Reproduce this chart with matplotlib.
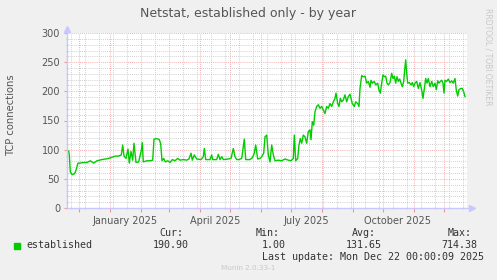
import datetime as dt
import matplotlib
matplotlib.use("Agg")
import matplotlib.pyplot as plt
import matplotlib.dates as mdates
from matplotlib.ticker import MultipleLocator, NullFormatter
from matplotlib.patches import Rectangle
import numpy as np

# series: days since 2024-11-19, established TCP connections
start = dt.datetime(2024, 11, 19)
end = dt.datetime(2025, 12, 24)

days = [0, 1.7, 2.3, 3.3, 5, 7.7, 9, 11, 13.3, 15.7, 20, 23.3, 26.7, 30, 35, 38.3,
        41.7, 45, 48.3, 51.7, 54.3, 55.7, 57, 59, 61, 62.3, 64, 65.7, 67, 69, 71.7,
        74.3, 75.3, 76.3, 80, 83.3, 85.7, 87, 90, 92.3, 93.7, 95, 96.7, 98.3,
        100.7, 103, 105.3, 108, 110.7, 113, 116.3, 119.7, 122, 124, 125.3, 127.3,
        129.7, 134, 136.3, 137.3, 138.7, 143, 144.7, 145.7, 149.7, 151.3, 153,
        154.7, 156.3, 161.3, 164, 166.3, 168, 169.7, 172, 174.7, 177.3, 178.7,
        183, 185.3, 187.3, 188.7, 190.7, 193, 194.7, 196.7, 198, 199.7,
        201.3, 203, 204.7, 206.3, 208, 211.3, 214.7, 218, 221.3, 224, 226.3,
        227.3, 228.7, 230.7, 232, 233.3, 234.7, 236.3, 238, 239.7, 241.3, 243,
        244, 245.3, 246.7, 248, 249.7, 251.3, 253, 254.7, 256.3, 258, 259.7,
        261.3, 263, 264.7, 266.3, 268, 269, 270.7, 272, 273.3, 274.7, 276.3,
        278, 279.7, 281.3, 283, 284, 285.3, 287.3, 288.7, 290.7, 292, 293,
        294.7, 296.3,
        298, 299.7, 301.3, 303, 304, 305.3, 307.3, 308.7, 310.7, 312, 313.3,
        314.7, 316, 317.3, 318.7, 320, 321.3, 323, 324.7, 326, 327.3, 328.7,
        330, 331.3, 332.7, 334, 335.3, 336.7, 337.7, 338.7, 339.7, 340.7, 342.3,
        344, 345.3, 346.7, 348, 349.7, 351.3, 353, 354.7, 356, 357.3, 358.7,
        360, 361.3, 363, 364.7, 366.3, 368, 369.3, 370.7, 372, 373.3, 374.7,
        376, 377, 378, 379.7, 381.3, 383, 384.7, 386.3, 388, 389.3, 390.7, 392,
        394, 395.3, 396.7, 398]
established = [97, 98, 91, 62, 57, 59, 65, 77, 77, 78, 78, 81, 77, 81, 83, 84,
               85, 87, 89, 89, 91, 108, 89, 85, 101, 77, 97, 82, 111, 78, 79,
               99, 112, 79, 81, 81, 82, 118, 119, 117, 110, 81, 85, 79,
               81, 78, 83, 81, 85, 82, 83, 82, 84, 94, 82, 91,
               84, 83, 88, 102, 83, 83, 91, 83, 83, 92, 83,
               88, 83, 84, 85, 102, 88, 83, 83, 85, 118, 83,
               83, 86, 94, 108, 84, 85, 88, 94, 122, 125,
               91, 79, 108, 91, 81, 82, 81, 84, 82, 81, 85,
               125, 81, 85, 108, 119, 111, 125, 122, 111, 131, 134,
               117, 148, 142, 165, 174, 177, 171, 174, 168, 162, 174,
               171, 179, 174, 182, 188, 197, 179, 174, 188, 182, 185,
               194, 182, 191, 195, 188, 179, 174, 182, 179, 174, 205,
               227, 225,
               226, 214, 217, 207, 219, 214, 217, 211, 214, 202, 197,
               214, 228, 225, 226, 214, 211, 215, 231, 222, 226, 214,
               225, 217, 221, 214, 208, 217, 237, 254, 231, 214, 215,
               211, 215, 208, 214, 217, 205, 215, 202, 188, 205, 222,
               214, 222, 208, 217, 208, 214, 203, 218, 214, 217, 219,
               214, 197, 219, 217, 221, 215, 218, 214, 222, 202, 192, 203,
               205, 205, 199, 191]

y_ticks = [0, 50, 100, 150, 200, 250, 300]
month_labels = ["January 2025", "April 2025", "July 2025", "October 2025"]
label_dates = [dt.datetime(2025, 1, 16), dt.datetime(2025, 4, 16),
               dt.datetime(2025, 7, 16), dt.datetime(2025, 10, 16)]
legend_cur, legend_min, legend_avg, legend_max = "190.90", "1.00", "131.65", "714.38"

W, H = 497, 280
txt = "#555555"
fig = plt.figure(figsize=(W / 100, H / 100), dpi=100, facecolor="#F0F0F0")
ax = fig.add_axes([67 / W, (H - 208) / H, 400 / W, 175 / H])
ax.set_facecolor("white")

x = mdates.date2num(start) + np.array(days)
ax.plot(x, established, color="#00CC00", lw=1.0, zorder=3)

ax.set_xlim(mdates.date2num(start), mdates.date2num(end))
ax.set_ylim(0, 300)

# grid
ax.xaxis.set_major_locator(mdates.MonthLocator())
ax.xaxis.set_minor_locator(mdates.RRuleLocator(
    mdates.rrulewrapper(mdates.WEEKLY, interval=2, dtstart=dt.datetime(2024, 12, 2))))
ax.xaxis.set_major_formatter(NullFormatter())
ax.yaxis.set_major_locator(MultipleLocator(50))
ax.yaxis.set_minor_locator(MultipleLocator(10))
ax.set_yticks(y_ticks)
ax.set_yticklabels([str(v) for v in y_ticks])

dots = (0, (1, 1.5))
ax.grid(which="minor", color="#C0C0C0", lw=0.6, ls=dots)
ax.grid(which="major", color="#F09898", lw=0.6, ls=dots)
ax.set_axisbelow(True)

for s in ax.spines.values():
    s.set_visible(False)
ax.tick_params(which="major", axis="x", length=3, color="#F09898", direction="out")
ax.tick_params(which="minor", axis="x", length=2, color="#C0C0C0", direction="inout")
ax.tick_params(which="major", axis="y", length=2, color="#F09898", direction="out",
               labelsize=7, labelcolor=txt, pad=3)
ax.tick_params(which="minor", axis="y", length=2, color="#C0C0C0", direction="inout")

# axis lines with arrows
axis_col = "#C8C8FF"
ax.plot([0, 1.012], [0, 0], transform=ax.transAxes, color=axis_col, lw=1, clip_on=False, zorder=4)
ax.plot([1.012], [0], transform=ax.transAxes, marker=">", ms=4, color=axis_col, clip_on=False, zorder=4)
ax.plot([0, 0], [0, 1.02], transform=ax.transAxes, color=axis_col, lw=1, clip_on=False, zorder=4)
ax.plot([0], [1.025], transform=ax.transAxes, marker="^", ms=4, color=axis_col, clip_on=False, zorder=4)

for d, lab in zip(label_dates, month_labels):
    ax.text(mdates.date2num(d), -0.045, lab, transform=ax.get_xaxis_transform(),
            ha="center", va="top", fontsize=7, color=txt)

ax.set_ylabel("TCP connections", fontsize=7.2, color=txt)
ax.yaxis.set_label_coords((16 - 67) / 400, (208 - 115) / 175)

fig.text(248.5 / W, 1 - 13 / H, "Netstat, established only - by year",
         ha="center", va="center", fontsize=9, color=txt)
fig.text(488 / W, 1 - 57 / H, "RRDTOOL / TOBI OETIKER", rotation=-90,
         ha="center", va="center", fontsize=5.5, color="#C8C8C8")

# legend
mono = dict(family="DejaVu Sans Mono", fontsize=7.2, color="#333333", va="center", ha="left")
fig.add_artist(Rectangle((14 / W, 1 - 248.5 / H), 6 / W, 6 / H,
                         transform=fig.transFigure, color="#00CC00"))
fig.text(26.7 / W, 1 - 245.5 / H, "established", **mono)
fig.text(159 / W, 1 - 233.5 / H, "Cur:", **mono)
fig.text(152.3 / W, 1 - 245.5 / H, legend_cur, **mono)
fig.text(255.7 / W, 1 - 233.5 / H, "Min:", **mono)
fig.text(261.7 / W, 1 - 245.5 / H, legend_min, **mono)
fig.text(351.7 / W, 1 - 233.5 / H, "Avg:", **mono)
fig.text(345.7 / W, 1 - 245.5 / H, legend_avg, **mono)
fig.text(447.7 / W, 1 - 233.5 / H, "Max:", **mono)
fig.text(441.7 / W, 1 - 245.5 / H, legend_max, **mono)
fig.text(261.7 / W, 1 - 257.5 / H, "Last update: Mon Dec 22 00:00:09 2025", **mono)
fig.text(248.5 / W, 1 - 268.5 / H, "Munin 2.0.33-1", ha="center", va="center",
         fontsize=5.2, color="#C8C8C8")

fig.savefig("out.png", dpi=100, facecolor=fig.get_facecolor())
